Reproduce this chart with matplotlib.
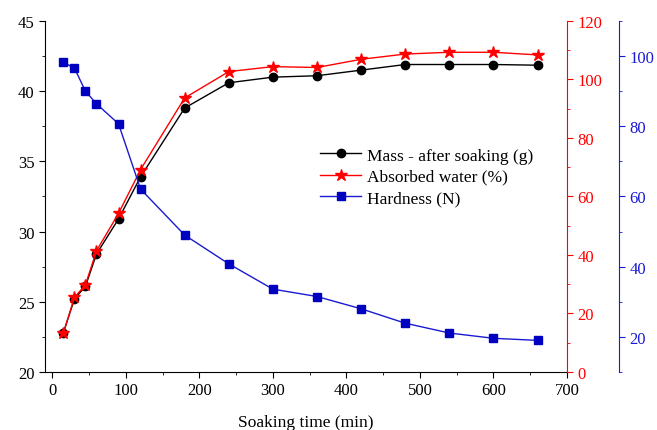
import numpy as np
import matplotlib
matplotlib.use('Agg')
import matplotlib.pyplot as plt
from matplotlib.ticker import MultipleLocator

plt.rcParams['font.family'] = ['Liberation Serif', 'DejaVu Serif']
plt.rcParams['font.size'] = 12

# soaking time (min)
time = [15, 30, 45, 60, 90, 120, 180, 240, 300, 360, 420, 480, 540, 600, 660]
# mass after soaking (g)
mass = [22.8, 25.2, 26.1, 28.4, 30.9, 33.9, 38.8, 40.6, 41.0, 41.1, 41.5, 41.9, 41.9, 41.9, 41.85]
# absorbed water (%)
water = [13.3, 25.5, 29.8, 41.4, 54.2, 69.2, 93.7, 102.7, 104.4, 104.1, 106.9, 108.7, 109.3, 109.3, 108.4]
# hardness (N)
hardness = [98.2, 96.6, 90.0, 86.4, 80.7, 62.1, 49.0, 40.8, 33.6, 31.5, 28.0, 23.9, 21.1, 19.6, 19.0]

red = '#ff0000'
blue = '#1a1ad0'

fig = plt.figure(figsize=(6.57, 4.31), dpi=100)
ax = fig.add_axes([0.0685, 0.1346, 0.7945, 0.8144])
ax2 = ax.twinx()
ax3 = ax.twinx()

l1, = ax.plot(time, mass, color='black', marker='o', markersize=6, lw=1,
              label='Mass - after soaking (g)')
l2, = ax2.plot(time, water, color=red, marker='*', markersize=9, lw=1,
               label='Absorbed water (%)')
l3, = ax3.plot(time, hardness, color=blue, marker='s', markersize=6, lw=1,
               markerfacecolor='#0000c0', markeredgecolor='#0000c0',
               label='Hardness (N)')

ax.set_xlim(-10, 700)
ax.set_ylim(20, 45)
ax.xaxis.set_major_locator(MultipleLocator(100))
ax.xaxis.set_minor_locator(MultipleLocator(50))
ax.yaxis.set_major_locator(MultipleLocator(5))
ax.yaxis.set_minor_locator(MultipleLocator(2.5))
ax.spines['top'].set_visible(False)
ax.spines['right'].set_visible(False)
ax.tick_params(which='major', direction='out', length=4)
ax.tick_params(which='minor', direction='out', length=2.5)
ax.set_xlabel('Soaking time (min)', labelpad=11, fontsize=12.5)

ax2.set_ylim(0, 120)
ax2.yaxis.set_major_locator(MultipleLocator(20))
ax2.yaxis.set_minor_locator(MultipleLocator(10))
for s in ['top', 'left', 'bottom']:
    ax2.spines[s].set_visible(False)
ax2.spines['right'].set_color(red)
ax2.tick_params(axis='y', which='both', colors=red)
ax2.tick_params(which='major', length=4)
ax2.tick_params(which='minor', length=2.5)

ax3.set_ylim(10, 110)
ax3.yaxis.set_major_locator(MultipleLocator(20))
ax3.set_yticks(np.arange(10, 111, 20), minor=True)
ax3.spines['right'].set_position(('outward', 37.5))
for s in ['top', 'left', 'bottom']:
    ax3.spines[s].set_visible(False)
ax3.spines['right'].set_color(blue)
ax3.tick_params(axis='y', which='both', colors=blue)
ax3.tick_params(which='major', length=4)
ax3.tick_params(which='minor', length=2.5)

ax3.legend(handles=[l1, l2, l3], loc='upper left', bbox_to_anchor=(0.463, 0.692),
           bbox_transform=fig.transFigure, frameon=False, numpoints=1,
           handlelength=2.4, handletextpad=0.3, labelspacing=0.3, fontsize=12.5)

fig.savefig('out.png', dpi=100)
